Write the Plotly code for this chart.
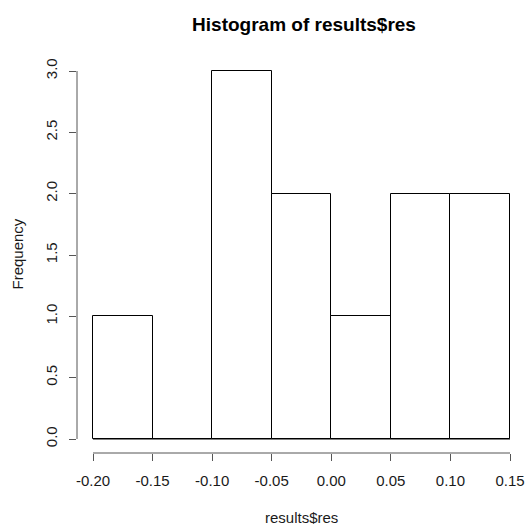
import plotly.graph_objects as go

# Histogram data (bin edges and counts)
bin_edges = [-0.20, -0.15, -0.10, -0.05, 0.00, 0.05, 0.10, 0.15]
counts = [1, 0, 3, 2, 1, 2, 2]
x_ticks = [-0.20, -0.15, -0.10, -0.05, 0.00, 0.05, 0.10, 0.15]
x_tick_labels = ["-0.20", "-0.15", "-0.10", "-0.05", "0.00", "0.05", "0.10", "0.15"]
y_ticks = [0.0, 0.5, 1.0, 1.5, 2.0, 2.5, 3.0]
y_tick_labels = ["0.0", "0.5", "1.0", "1.5", "2.0", "2.5", "3.0"]

centers = [(a + b) / 2 for a, b in zip(bin_edges[:-1], bin_edges[1:])]
widths = [b - a for a, b in zip(bin_edges[:-1], bin_edges[1:])]

W, H = 525, 525
ML, MR, MT, MB = 77, 0, 56, 72
# pixel layout of R-like plot region
x_px0, x_px1 = 93, 510   # data -0.20 / 0.15
y_px0, y_px1 = 439, 71   # data 0 / 3
xppu = (x_px1 - x_px0) / (x_ticks[-1] - x_ticks[0])
yppu = (y_px0 - y_px1) / (y_ticks[-1] - y_ticks[0])
x_range = [x_ticks[0] - (x_px0 - ML) / xppu, x_ticks[-1] + (W - MR - x_px1) / xppu]
y_range = [y_ticks[0] - (H - MB - y_px0) / yppu, y_ticks[-1] + (y_px1 - MT) / yppu]

FONT = "Liberation Sans, Arial, sans-serif"
TXT = "#1a1a1a"
AX = "#555555"

fig = go.Figure()
fig.add_trace(go.Bar(
    x=centers, y=counts, width=widths,
    marker=dict(color="white", line=dict(color="black", width=1)),
    showlegend=False, hoverinfo="skip",
))

shapes = [
    # baseline under all bins (shows zero-count bin edge)
    dict(type="line", xref="x", yref="y", x0=bin_edges[0], x1=bin_edges[-1], y0=0, y1=0,
         line=dict(color="black", width=1)),
    # detached R-style axis lines
    dict(type="line", xref="x", yref="paper", x0=x_ticks[0], x1=x_ticks[-1], y0=0, y1=0,
         line=dict(color=AX, width=1)),
    dict(type="line", xref="paper", yref="y", x0=0, x1=0, y0=y_ticks[0], y1=y_ticks[-1],
         line=dict(color=AX, width=1)),
]

fig.update_layout(
    width=W, height=H,
    margin=dict(l=ML, r=MR, t=MT, b=MB, pad=0),
    paper_bgcolor="white", plot_bgcolor="white",
    font=dict(family=FONT, size=15, color=TXT),
    title=dict(text="<b>Histogram of results$res</b>", x=304 / W, xref="container", xanchor="center",
               y=1 - 24 / H, yref="container", yanchor="middle",
               font=dict(family=FONT, size=19, color="black")),
    xaxis=dict(range=x_range, tickvals=x_ticks, ticktext=x_tick_labels,
               ticks="outside", ticklen=7, tickcolor=AX, tickwidth=1,
               showline=False, showgrid=False, zeroline=False,
               ticklabelstandoff=7, tickfont=dict(size=15, color=TXT)),
    yaxis=dict(range=y_range, tickvals=y_ticks, ticktext=y_tick_labels,
               ticks="outside", ticklen=7, tickcolor=AX, tickwidth=1,
               showline=False, showgrid=False, zeroline=False, tickangle=-90,
               ticklabelstandoff=6, tickfont=dict(size=15, color=TXT)),
    shapes=shapes,
    bargap=0,
    annotations=[
        dict(text="results$res", xref="paper", yref="paper", x=0.5, y=(H - MB - 517) / (H - MB - MT),
             xanchor="center", yanchor="middle", showarrow=False, font=dict(size=15, color=TXT)),
        dict(text="Frequency", xref="paper", yref="paper", x=(17 - ML) / (W - ML - MR), y=0.5,
             xanchor="center", yanchor="middle", textangle=-90, showarrow=False,
             font=dict(size=15, color=TXT)),
    ],
)

fig.write_html("out.html", config={"displayModeBar": False},
               post_script="document.body.style.margin='0';document.body.style.overflow='hidden';")
